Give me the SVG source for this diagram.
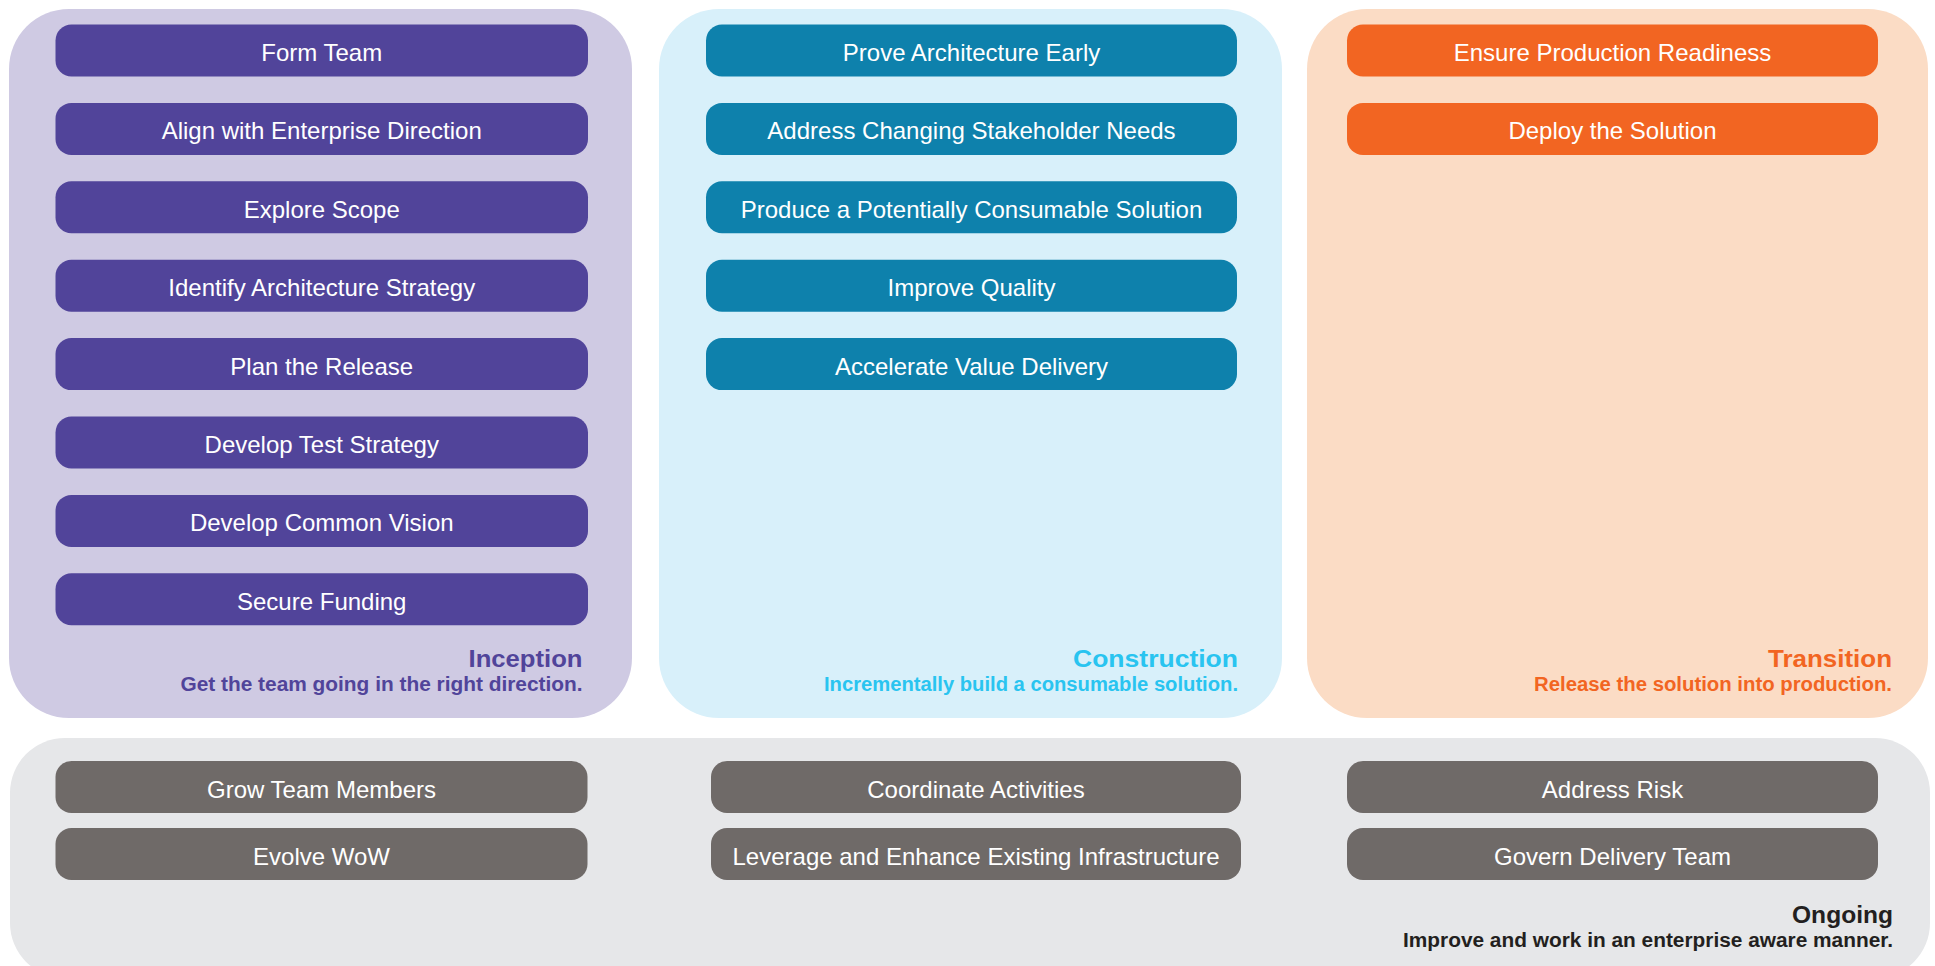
<svg xmlns="http://www.w3.org/2000/svg" width="1935" height="966" viewBox="0 0 1935 966">
<style>
.lbl{font-family:"Liberation Sans",Arial,sans-serif;font-size:24px;fill:#ffffff;text-anchor:middle}
.ttl{font-family:"Liberation Sans",Arial,sans-serif;font-size:24px;font-weight:bold;text-anchor:end}
.sub{font-family:"Liberation Sans",Arial,sans-serif;font-size:20px;font-weight:bold;text-anchor:end}
.inc{fill:#51449a}
.con{fill:#0e81ac}
.tra{fill:#f26522}
.ong{fill:#6f6a68}
</style>
<rect width="1935" height="966" fill="#ffffff"/>
<g id="panel-inception">
<rect x="9" y="9" width="623" height="709" rx="60" fill="#cfcae3"/>
<text class="ttl" x="582.5" y="667" fill="#51449a" textLength="114" lengthAdjust="spacingAndGlyphs">Inception</text>
<text class="sub" x="582.5" y="690.5" fill="#51449a" textLength="402" lengthAdjust="spacingAndGlyphs">Get the team going in the right direction.</text>
</g>
<g id="panel-construction">
<rect x="659" y="9" width="623" height="709" rx="60" fill="#d8f0fa"/>
<text class="ttl" x="1238" y="667" fill="#29c4f0" textLength="165" lengthAdjust="spacingAndGlyphs">Construction</text>
<text class="sub" x="1238" y="690.5" fill="#29c4f0" textLength="414" lengthAdjust="spacingAndGlyphs">Incrementally build a consumable solution.</text>
</g>
<g id="panel-transition">
<rect x="1307" y="9" width="621" height="709" rx="60" fill="#fbdcc5"/>
<text class="ttl" x="1892" y="667" fill="#f26522" textLength="124" lengthAdjust="spacingAndGlyphs">Transition</text>
<text class="sub" x="1892" y="690.5" fill="#f26522" textLength="358" lengthAdjust="spacingAndGlyphs">Release the solution into production.</text>
</g>
<g id="panel-ongoing">
<rect x="10" y="738" width="1920" height="240" rx="55" fill="#e6e7e9"/>
<text class="ttl" x="1893" y="923" fill="#231f20" textLength="101" lengthAdjust="spacingAndGlyphs">Ongoing</text>
<text class="sub" x="1893" y="946.5" fill="#231f20" textLength="490" lengthAdjust="spacingAndGlyphs">Improve and work in an enterprise aware manner.</text>
</g>
<g id="inc-1"><rect class="inc" x="55.5" y="24.5" width="532.5" height="52" rx="16"/><text class="lbl" x="321.75" y="61">Form Team</text></g>
<g id="inc-2"><rect class="inc" x="55.5" y="102.9" width="532.5" height="52" rx="16"/><text class="lbl" x="321.75" y="139.4">Align with Enterprise Direction</text></g>
<g id="inc-3"><rect class="inc" x="55.5" y="181.3" width="532.5" height="52" rx="16"/><text class="lbl" x="321.75" y="217.8">Explore Scope</text></g>
<g id="inc-4"><rect class="inc" x="55.5" y="259.7" width="532.5" height="52" rx="16"/><text class="lbl" x="321.75" y="296.2">Identify Architecture Strategy</text></g>
<g id="inc-5"><rect class="inc" x="55.5" y="338.1" width="532.5" height="52" rx="16"/><text class="lbl" x="321.75" y="374.6">Plan the Release</text></g>
<g id="inc-6"><rect class="inc" x="55.5" y="416.5" width="532.5" height="52" rx="16"/><text class="lbl" x="321.75" y="453">Develop Test Strategy</text></g>
<g id="inc-7"><rect class="inc" x="55.5" y="494.9" width="532.5" height="52" rx="16"/><text class="lbl" x="321.75" y="531.4">Develop Common Vision</text></g>
<g id="inc-8"><rect class="inc" x="55.5" y="573.3" width="532.5" height="52" rx="16"/><text class="lbl" x="321.75" y="609.8">Secure Funding</text></g>
<g id="con-1"><rect class="con" x="706" y="24.5" width="531" height="52" rx="16"/><text class="lbl" x="971.5" y="61">Prove Architecture Early</text></g>
<g id="con-2"><rect class="con" x="706" y="102.9" width="531" height="52" rx="16"/><text class="lbl" x="971.5" y="139.4">Address Changing Stakeholder Needs</text></g>
<g id="con-3"><rect class="con" x="706" y="181.3" width="531" height="52" rx="16"/><text class="lbl" x="971.5" y="217.8">Produce a Potentially Consumable Solution</text></g>
<g id="con-4"><rect class="con" x="706" y="259.7" width="531" height="52" rx="16"/><text class="lbl" x="971.5" y="296.2">Improve Quality</text></g>
<g id="con-5"><rect class="con" x="706" y="338.1" width="531" height="52" rx="16"/><text class="lbl" x="971.5" y="374.6">Accelerate Value Delivery</text></g>
<g id="tra-1"><rect class="tra" x="1347" y="24.5" width="531" height="52" rx="16"/><text class="lbl" x="1612.5" y="61">Ensure Production Readiness</text></g>
<g id="tra-2"><rect class="tra" x="1347" y="102.9" width="531" height="52" rx="16"/><text class="lbl" x="1612.5" y="139.4">Deploy the Solution</text></g>
<g id="ong-1"><rect class="ong" x="55.5" y="761" width="532" height="52" rx="16"/><text class="lbl" x="321.5" y="797.5">Grow Team Members</text></g>
<g id="ong-2"><rect class="ong" x="55.5" y="828" width="532" height="52" rx="16"/><text class="lbl" x="321.5" y="864.5">Evolve WoW</text></g>
<g id="ong-3"><rect class="ong" x="711" y="761" width="530" height="52" rx="16"/><text class="lbl" x="976" y="797.5">Coordinate Activities</text></g>
<g id="ong-4"><rect class="ong" x="711" y="828" width="530" height="52" rx="16"/><text class="lbl" x="976" y="864.5">Leverage and Enhance Existing Infrastructure</text></g>
<g id="ong-5"><rect class="ong" x="1347" y="761" width="531" height="52" rx="16"/><text class="lbl" x="1612.5" y="797.5">Address Risk</text></g>
<g id="ong-6"><rect class="ong" x="1347" y="828" width="531" height="52" rx="16"/><text class="lbl" x="1612.5" y="864.5">Govern Delivery Team</text></g>
<g id="connectors"></g>
</svg>
